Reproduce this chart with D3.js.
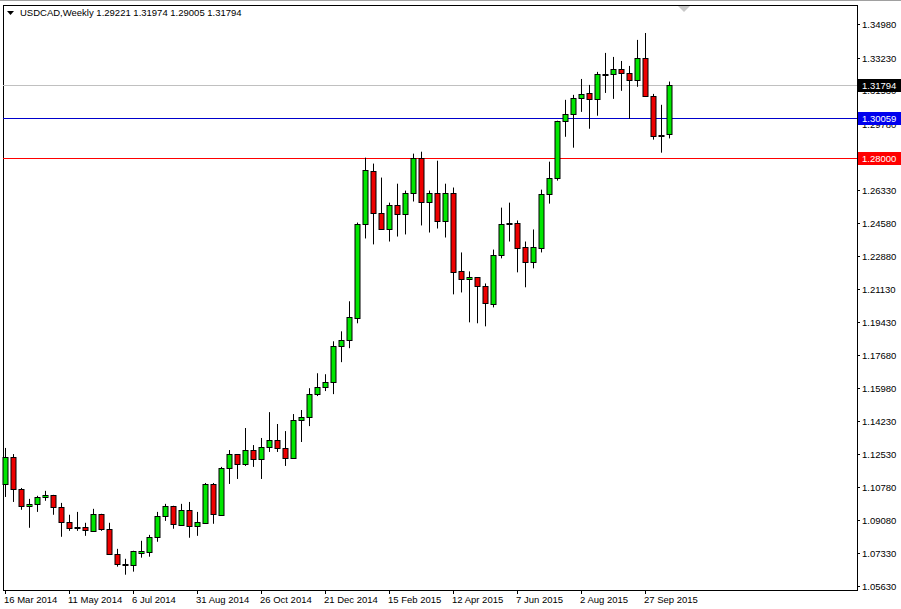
<!DOCTYPE html>
<html>
<head>
<meta charset="utf-8">
<script src="https://cdn.jsdelivr.net/npm/d3@7/dist/d3.min.js"></script>
<style>
  body { margin: 0; background: #fff; }
  svg { display: block; font-family: "Liberation Sans", Arial, sans-serif; }
</style>
</head>
<body>
<svg id="chart" width="901" height="609"></svg>
<script>
// weekly candles, USDCAD, starting 16 Mar 2014
var opens  = [1.1096,1.1237,1.1070,1.0982,1.0992,1.1028,1.1039,1.0976,1.0898,1.0872,1.0872,1.0851,1.0940,1.0862,1.0731,1.0679,
              1.0674,1.0737,1.0742,1.0820,1.0929,1.0982,1.0883,1.0961,1.0877,1.0893,1.1096,1.0935,1.1180,1.1252,1.1200,1.1273,
              1.1226,1.1289,1.1325,1.1284,1.1232,1.1430,1.1445,1.1565,1.1602,1.1628,1.1815,1.1846,1.1966,1.2456,1.2732,1.2513,
              1.2430,1.2555,1.2508,1.2617,1.2800,1.2571,1.2617,1.2472,1.2617,1.2206,1.2164,1.2175,1.2128,1.2039,1.2294,1.2461,
              1.2461,1.2331,1.2253,1.2331,1.2612,1.2696,1.2993,1.3029,1.3112,1.3138,1.3107,1.3237,1.3237,1.3264,1.3243,1.3206,
              1.3321,1.3123,1.2914,1.29221];
var highs  = [1.1284,1.1252,1.1075,1.1018,1.1034,1.1060,1.1039,1.0997,1.0935,1.0950,1.0893,1.0966,1.0940,1.0893,1.0757,1.0705,
              1.0747,1.0799,1.0830,1.0950,1.0992,1.0982,1.0992,1.1002,1.0950,1.1101,1.1101,1.1185,1.1273,1.1252,1.1388,1.1299,
              1.1336,1.1471,1.1409,1.1372,1.1461,1.1482,1.1596,1.1674,1.1669,1.1841,1.1893,1.2050,1.2461,1.2800,1.2769,1.2696,
              1.2565,1.2664,1.2628,1.2821,1.2831,1.2628,1.2784,1.2664,1.2644,1.2305,1.2206,1.2175,1.2143,1.2320,1.2539,1.2565,
              1.2472,1.2362,1.2425,1.2633,1.2779,1.2993,1.3102,1.3128,1.3211,1.3180,1.3248,1.3347,1.3326,1.3305,1.3279,1.3415,
              1.3451,1.3133,1.3076,1.31974];
var lows   = [1.1028,1.1002,1.0961,1.0867,1.0950,1.1008,1.0935,1.0820,1.0851,1.0851,1.0825,1.0851,1.0851,1.0726,1.0664,1.0622,
              1.0638,1.0711,1.0716,1.0794,1.0903,1.0862,1.0877,1.0815,1.0825,1.0888,1.0888,1.0929,1.1096,1.1122,1.1190,1.1185,
              1.1122,1.1263,1.1263,1.1190,1.1232,1.1315,1.1398,1.1555,1.1581,1.1565,1.1732,1.1805,1.1935,1.2378,1.2347,1.2425,
              1.2362,1.2388,1.2399,1.2571,1.2446,1.2409,1.2430,1.2383,1.2086,1.2096,1.1940,1.1935,1.1919,1.2018,1.2274,1.2362,
              1.2201,1.2123,1.2222,1.2305,1.2560,1.2680,1.2909,1.2852,1.3039,1.2951,1.3019,1.3138,1.3107,1.3149,1.3003,1.3170,
              1.3118,1.2894,1.2826,1.29005];
var closes = [1.1237,1.1070,1.0982,1.0992,1.1028,1.1039,1.0976,1.0898,1.0867,1.0867,1.0856,1.0940,1.0862,1.0731,1.0679,1.0674,
              1.0747,1.0747,1.0820,1.0929,1.0982,1.0888,1.0961,1.0877,1.0898,1.1096,1.0940,1.1180,1.1252,1.1200,1.1273,1.1226,
              1.1289,1.1325,1.1284,1.1232,1.1430,1.1445,1.1565,1.1602,1.1628,1.1815,1.1846,1.1966,1.2456,1.2737,1.2513,1.2430,
              1.2555,1.2508,1.2617,1.2800,1.2571,1.2617,1.2472,1.2617,1.2206,1.2164,1.2175,1.2128,1.2039,1.2294,1.2456,1.2461,
              1.2331,1.2253,1.2331,1.2612,1.2696,1.2993,1.3029,1.3112,1.3133,1.3107,1.3237,1.3237,1.3264,1.3243,1.3206,1.3321,
              1.3123,1.2914,1.2920,1.31794];

var priceTicks = [1.34980,1.33230,1.31530,1.29780,1.28000,1.26330,1.24580,1.22880,1.21130,1.19430,1.17680,
                  1.15980,1.14230,1.12530,1.10780,1.09080,1.07330,1.05630];
var dateTickIdx = [0,8,16,24,32,40,48,56,64,72,80];
var dateTickLabels = ['16 Mar 2014','11 May 2014','6 Jul 2014','31 Aug 2014','26 Oct 2014','21 Dec 2014',
                      '15 Feb 2015','12 Apr 2015','7 Jun 2015','2 Aug 2015','27 Sep 2015'];
var levels = [
  {value: 1.31794, line: '#c0c0c0', box: '#000000'},
  {value: 1.30059, line: '#0000cc', box: '#0000ee'},
  {value: 1.28000, line: '#ff0000', box: '#ff0000'}
];

var W = 901, H = 609;
var plotL = 3, plotR = 857, plotT = 5, plotB = 590;
var FS = 9.5;

var svg = d3.select('#chart');

var x = d3.scaleLinear().domain([0, 1]).range([5, 13]);
var y = d3.scaleLinear().domain([1.0563, 1.3498]).range([586, 24]);

// frame
svg.append('rect')
    .attr('x', plotL + 0.5).attr('y', plotT + 0.5)
    .attr('width', plotR - plotL).attr('height', plotB - plotT)
    .attr('fill', 'none').attr('stroke', '#000');
svg.append('line')
    .attr('x1', 0).attr('x2', W).attr('y1', 0.5).attr('y2', 0.5)
    .attr('stroke', '#a0a0a0');

// level lines
var lv = svg.append('g');
lv.selectAll('line').data(levels).enter().append('line')
    .attr('x1', plotL).attr('x2', plotR)
    .attr('y1', function (d) { return Math.round(y(d.value)) + 0.5; })
    .attr('y2', function (d) { return Math.round(y(d.value)) + 0.5; })
    .attr('stroke', function (d) { return d.line; });

// candles
var idx = d3.range(opens.length);
var candles = svg.append('g').selectAll('g').data(idx).enter().append('g');

candles.append('line')
    .attr('x1', function (i) { return Math.round(x(i)) + 0.5; })
    .attr('x2', function (i) { return Math.round(x(i)) + 0.5; })
    .attr('y1', function (i) { return y(highs[i]); })
    .attr('y2', function (i) { return y(lows[i]); })
    .attr('stroke', '#000');

candles.append('rect')
    .attr('x', function (i) { return Math.round(x(i)) - 2; })
    .attr('y', function (i) { return Math.round(y(Math.max(opens[i], closes[i]))) + 0.5; })
    .attr('width', 5)
    .attr('height', function (i) { return Math.max(1, Math.round(Math.abs(y(opens[i]) - y(closes[i])))); })
    .attr('fill', function (i) { return closes[i] >= opens[i] ? '#00e600' : '#ee0000'; })
    .attr('stroke', '#000');

// price axis
var ax = svg.append('g').attr('font-size', FS).attr('fill', '#000');
ax.selectAll('line').data(priceTicks).enter().append('line')
    .attr('x1', plotR).attr('x2', plotR + 3)
    .attr('y1', function (d) { return Math.round(y(d)) + 0.5; })
    .attr('y2', function (d) { return Math.round(y(d)) + 0.5; })
    .attr('stroke', '#000');
ax.selectAll('text').data(priceTicks).enter().append('text')
    .attr('x', plotR + 5)
    .attr('y', function (d) { return y(d) + 4; })
    .text(function (d) { return d.toFixed(5); });

// level labels
var lb = svg.append('g').attr('font-size', FS);
lb.selectAll('rect').data(levels).enter().append('rect')
    .attr('x', plotR + 1).attr('width', 43)
    .attr('y', function (d) { return Math.round(y(d.value)) - 6; })
    .attr('height', 13)
    .attr('fill', function (d) { return d.box; });
lb.selectAll('text').data(levels).enter().append('text')
    .attr('x', plotR + 5)
    .attr('y', function (d) { return y(d.value) + 4; })
    .attr('fill', '#fff')
    .text(function (d) { return d.value.toFixed(5); });

// date axis
var dx = svg.append('g').attr('font-size', FS);
dx.selectAll('line').data(dateTickIdx).enter().append('line')
    .attr('x1', function (i) { return Math.round(x(i)) + 0.5; })
    .attr('x2', function (i) { return Math.round(x(i)) + 0.5; })
    .attr('y1', plotB).attr('y2', plotB + 4)
    .attr('stroke', '#000');
dx.selectAll('text').data(dateTickIdx).enter().append('text')
    .attr('x', function (i) { return Math.round(x(i)) - 1; })
    .attr('y', plotB + 13)
    .text(function (i, k) { return dateTickLabels[k]; });

// title
svg.append('path').attr('d', 'M7,11 L14,11 L10.5,15 Z').attr('fill', '#000');
svg.append('text').attr('x', 20).attr('y', 16).attr('font-size', FS)
    .attr('fill', '#000')
    .text('USDCAD,Weekly  1.29221 1.31974 1.29005 1.31794');

// shift marker
svg.append('path').attr('d', 'M678,6 L690,6 L684,12 Z').attr('fill', '#c8c8c8');
</script>
</body>
</html>
